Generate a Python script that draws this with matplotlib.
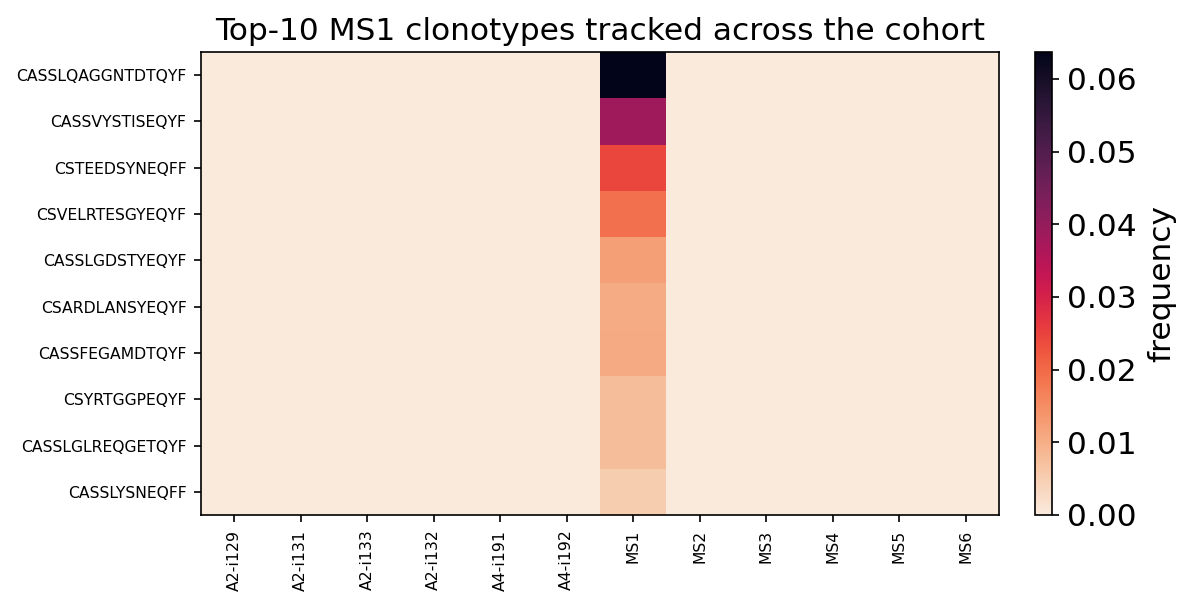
import matplotlib
matplotlib.use("Agg")
import matplotlib.pyplot as plt
import numpy as np
import seaborn as sns

# clonotypes (rows) and samples (columns)
clonotypes = ["CASSLQAGGNTDTQYF", "CASSVYSTISEQYF", "CSTEEDSYNEQFF", "CSVELRTESGYEQYF",
              "CASSLGDSTYEQYF", "CSARDLANSYEQYF", "CASSFEGAMDTQYF", "CSYRTGGPEQYF",
              "CASSLGLREQGETQYF", "CASSLYSNEQFF"]
samples = ["A2-i129", "A2-i131", "A2-i133", "A2-i132", "A4-i191", "A4-i192",
           "MS1", "MS2", "MS3", "MS4", "MS5", "MS6"]
# frequency in MS1, all other samples are zero
ms1_freq = [0.0637, 0.0385, 0.0245, 0.0190, 0.0122, 0.0103, 0.0105, 0.0076, 0.0076, 0.0052]

freq = np.zeros((len(clonotypes), len(samples)))
freq[:, samples.index("MS1")] = ms1_freq

cmap = sns.color_palette("rocket_r", as_cmap=True)

fig = plt.figure(figsize=(1198 / 150, 607 / 150), dpi=150)
ax = fig.add_axes([0.1678, 0.1516, 0.6661, 0.7627])
cax = fig.add_axes([0.864, 0.1516, 0.0142, 0.7627])

im = ax.imshow(freq, aspect="auto", cmap=cmap, vmin=0, vmax=freq.max(), interpolation="nearest")
ax.set_xticks(range(len(samples)))
ax.set_xticklabels(samples, rotation=90, fontsize=7.5)
ax.set_yticks(range(len(clonotypes)))
ax.set_yticklabels(clonotypes, fontsize=7.5)
ax.set_title("Top-10 MS1 clonotypes tracked across the cohort", fontsize=15)

cb = fig.colorbar(im, cax=cax)
cb.set_label("frequency", fontsize=15, labelpad=5)
cb.ax.tick_params(labelsize=15)
cb.set_ticks([0, 0.01, 0.02, 0.03, 0.04, 0.05, 0.06])
cb.ax.set_yticklabels(["0.00", "0.01", "0.02", "0.03", "0.04", "0.05", "0.06"])

fig.savefig("out.png", dpi=150)
